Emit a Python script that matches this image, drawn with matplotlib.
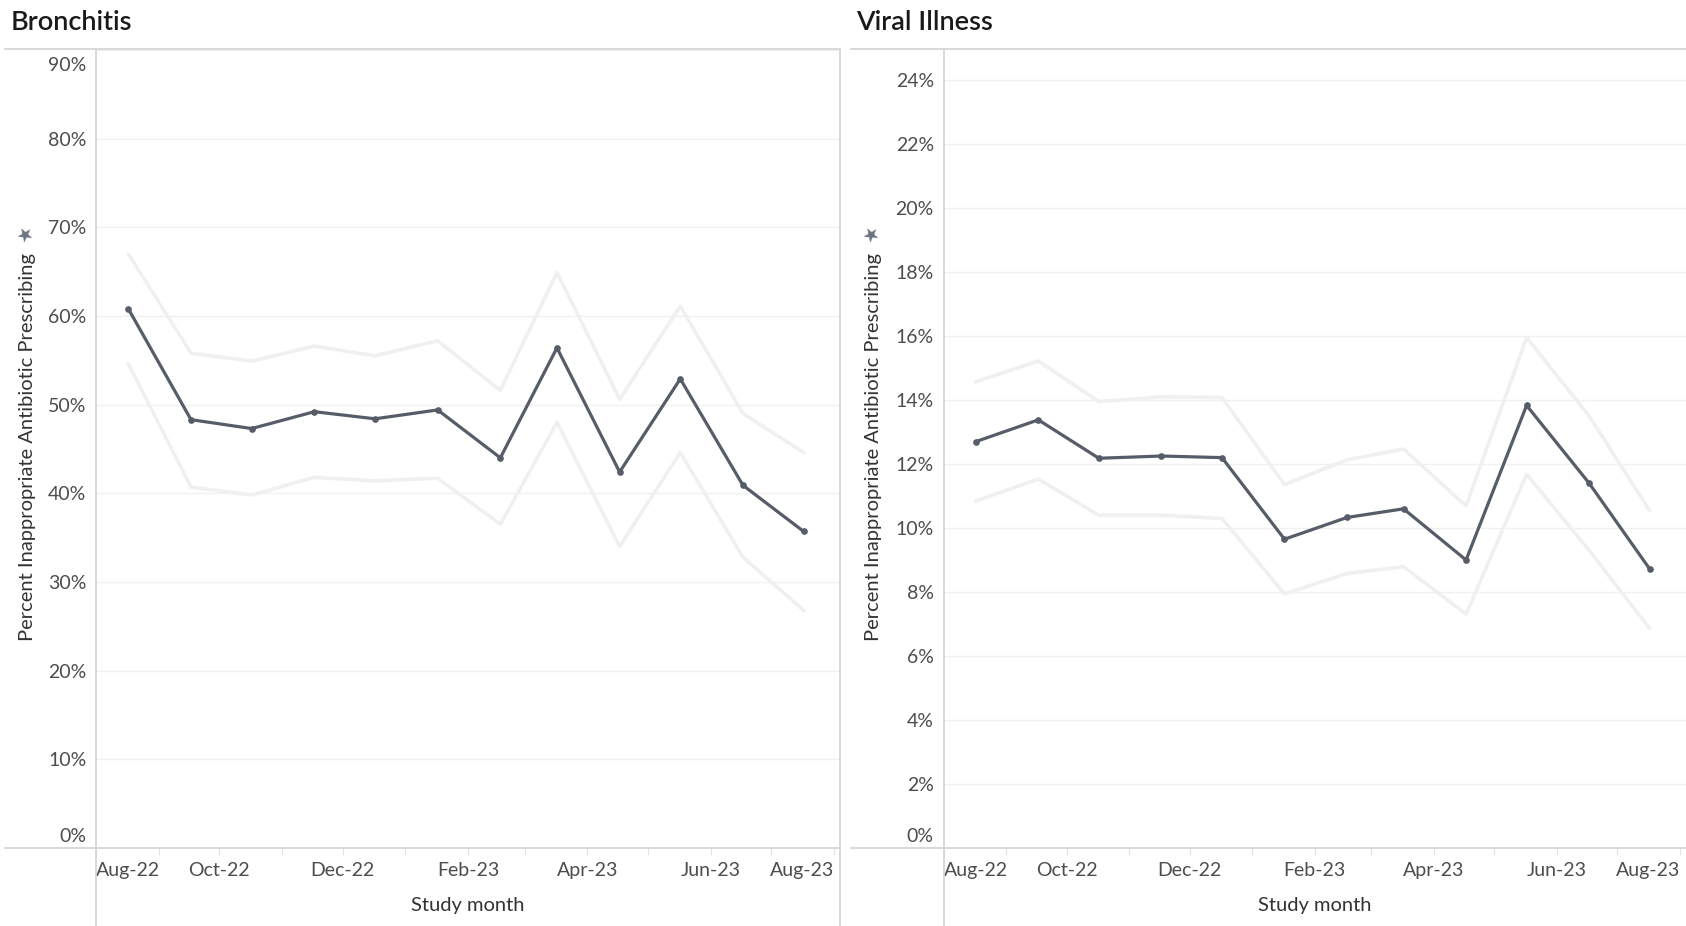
import datetime as dt
import matplotlib
matplotlib.use("Agg")
import matplotlib.pyplot as plt
import matplotlib.transforms as mtransforms
from matplotlib.lines import Line2D

# Data -------------------------------------------------------------------------
months = [dt.date(2022, 8, 17), dt.date(2022, 9, 17), dt.date(2022, 10, 17),
          dt.date(2022, 11, 17), dt.date(2022, 12, 17), dt.date(2023, 1, 17),
          dt.date(2023, 2, 17), dt.date(2023, 3, 17), dt.date(2023, 4, 17),
          dt.date(2023, 5, 17), dt.date(2023, 6, 17), dt.date(2023, 7, 17)]

bronchitis = [60.8, 48.3, 47.3, 49.2, 48.4, 49.4, 44.0, 56.4, 42.4, 52.9, 40.9, 35.7]
bronchitis_hi = [67.0, 55.8, 54.9, 56.6, 55.5, 57.2, 51.6, 64.9, 50.6, 61.1, 49.0, 44.6]
bronchitis_lo = [54.6, 40.7, 39.8, 41.8, 41.4, 41.7, 36.5, 48.0, 34.0, 44.6, 32.8, 26.8]

viral = [12.70, 13.38, 12.18, 12.25, 12.20, 9.65, 10.33, 10.60, 9.00, 13.83, 11.40, 8.72]
viral_hi = [14.57, 15.22, 13.95, 14.10, 14.08, 11.36, 12.13, 12.47, 10.69, 15.95, 13.50, 10.54]
viral_lo = [10.84, 11.53, 10.40, 10.40, 10.30, 7.94, 8.58, 8.79, 7.31, 11.68, 9.30, 6.86]

month_ticks = [dt.date(2022, 8, 1)] + [dt.date(2022 + (m > 12), (m - 1) % 12 + 1, 1)
                                       for m in range(9, 21)]
labeled = {"Aug-22", "Oct-22", "Dec-22", "Feb-23", "Apr-23", "Jun-23", "Aug-23"}

bron_ticks = list(range(0, 91, 10))
viral_ticks = list(range(0, 25, 2))

# Style -----------------------------------------------------------------------
W, H = 1686, 926
plt.rcParams["font.family"] = ["Lato", "DejaVu Sans"]
LINE = "#565c68"
BAND = "#f0f0f0"
GRID = "#f1f1f1"
RULE = "#d6d6d6"
TXT = "#4d4d4d"

fig = plt.figure(figsize=(W / 100, H / 100), dpi=100)


def px(x0, y0, x1, y1):
    fig.add_artist(Line2D([x0 / W, x1 / W], [1 - y0 / H, 1 - y1 / H],
                          transform=fig.transFigure, color=RULE, lw=1.3))


def nudge(label, dy_px):
    off = mtransforms.ScaledTranslation(0, dy_px / 100, fig.dpi_scale_trans)
    label.set_transform(label.get_transform() + off)


def panel(left, width, vals, hi, lo, yticks, ymax):
    ax = fig.add_axes([left / W, (H - 848) / H, width / W, 799 / H])
    ax.plot(months, hi, color=BAND, lw=2.6, zorder=2, solid_capstyle="round")
    ax.plot(months, lo, color=BAND, lw=2.6, zorder=2, solid_capstyle="round")
    ax.plot(months, vals, color=LINE, lw=2.3, marker="o", ms=3.8, zorder=3)
    ax.set_ylim(0, ymax)
    ax.set_xlim(dt.date(2022, 8, 1), dt.date(2023, 8, 4))
    ax.set_yticks(yticks)
    ax.set_yticklabels([f"{v}%" for v in yticks])
    ax.set_xticks(month_ticks)
    names = [d.strftime("%b-%y") for d in month_ticks]
    xlabs = ax.set_xticklabels([n if n in labeled else "" for n in names])
    xlabs[0].set_ha("left")
    xlabs[-1].set_ha("right")
    ax.grid(axis="y", color=GRID, lw=1.0, zorder=0)
    ax.tick_params(axis="y", length=0, pad=7, labelsize=14, labelcolor=TXT)
    ax.tick_params(axis="x", length=5, width=0.8, color="#e2e2e2", pad=5,
                   labelsize=14, labelcolor=TXT)
    for s in ax.spines.values():
        s.set_visible(False)
    ylabs = ax.get_yticklabels()
    ylabs[0].set_va("bottom")
    nudge(ylabs[0], 3)
    if yticks[-1] >= ymax - 0.5:
        ylabs[-1].set_va("top")
        nudge(ylabs[-1], -7)
    return ax


panel(96, 744, bronchitis, bronchitis_hi, bronchitis_lo, bron_ticks, 90.1)
panel(943.5, 742.5, viral, viral_hi, viral_lo, viral_ticks, 24.97)

# frame rules like the dashboard
px(5, 49, 840, 49)
px(5, 848, 840, 848)
px(96, 49, 96, 926)
px(840, 49, 840, 926)
px(851, 49, 1686, 49)
px(851, 848, 1686, 848)
px(943.5, 49, 943.5, 926)

# titles and axis labels
fig.text(11 / W, 1 - 22 / H, "Bronchitis", fontsize=19.5, fontweight="semibold",
         color="#1a1a1a", va="center", ha="left")
fig.text(856 / W, 1 - 22 / H, "Viral Illness", fontsize=19.5, fontweight="semibold",
         color="#1a1a1a", va="center", ha="left")
for x in (28, 874):
    fig.text(x / W, 1 - 447 / H, "Percent Inappropriate Antibiotic Prescribing",
             rotation=90, fontsize=14.5, color="#333333", va="center", ha="center")
    # small pin glyph above the axis title
    fig.text((x - 2) / W, 1 - 235 / H, "\u2605", fontsize=14, color="#6b7280",
             va="center", ha="center", rotation=30, family="DejaVu Sans")
for x in (468, 1315):
    fig.text(x / W, 1 - 906 / H, "Study month", fontsize=14.5, color="#333333",
             va="center", ha="center")

fig.savefig("out.png", dpi=100)
